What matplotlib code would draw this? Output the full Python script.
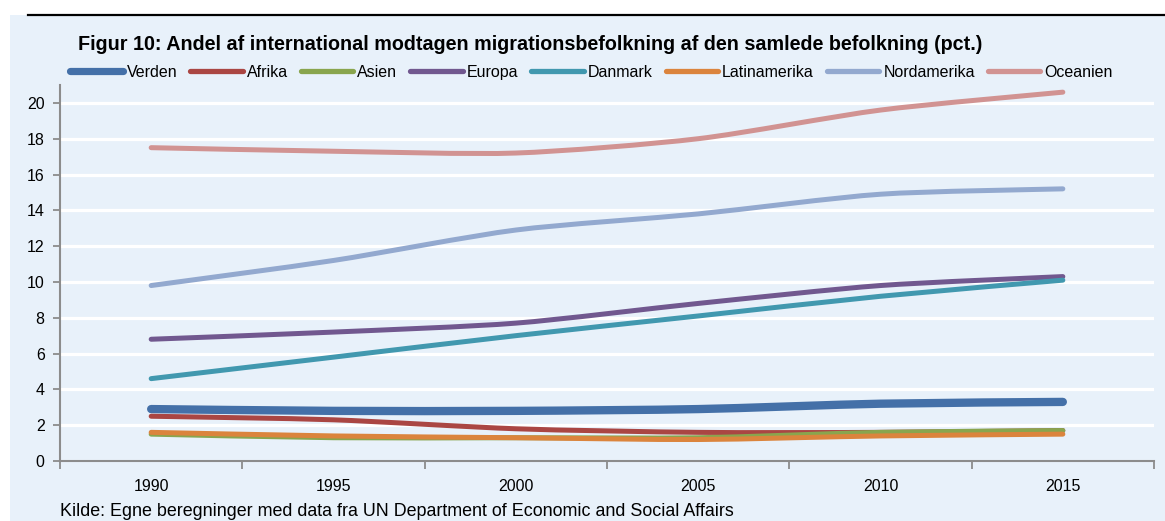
import numpy as np
import matplotlib
matplotlib.use('Agg')
import matplotlib.pyplot as plt
from matplotlib.path import Path
from matplotlib.patches import PathPatch, Rectangle
from matplotlib.lines import Line2D

plt.rcParams['font.family'] = ['Liberation Sans Narrow', 'Liberation Sans', 'DejaVu Sans']

# data (pct. of population)
years = ['1990', '1995', '2000', '2005', '2010', '2015']
verden = [2.9, 2.8, 2.8, 2.9, 3.2, 3.3]
afrika = [2.5, 2.3, 1.8, 1.6, 1.6, 1.7]
asien = [1.5, 1.3, 1.3, 1.3, 1.6, 1.7]
europa = [6.8, 7.2, 7.7, 8.8, 9.8, 10.3]
danmark = [4.6, 5.8, 7.0, 8.1, 9.2, 10.1]
latinamerika = [1.6, 1.4, 1.3, 1.2, 1.4, 1.5]
nordamerika = [9.8, 11.2, 12.9, 13.8, 14.9, 15.2]
oceanien = [17.5, 17.3, 17.2, 18.0, 19.6, 20.6]

series = [
    ('Verden', verden, '#4470A8', 6.0),
    ('Afrika', afrika, '#AA4643', 3.6),
    ('Asien', asien, '#89A54E', 3.6),
    ('Europa', europa, '#71588F', 3.6),
    ('Danmark', danmark, '#4198AF', 3.6),
    ('Latinamerika', latinamerika, '#DB843D', 3.6),
    ('Nordamerika', nordamerika, '#93A9CF', 3.6),
    ('Oceanien', oceanien, '#D19392', 3.6),
]

BG = '#E8F1FA'
GREY = '#8C8C8C'


# smooth curve through the points, like the excel "smoothed line" option
def smooth_path(xs, ys, k=8.0):
    pts = np.column_stack([xs, ys]).astype(float)
    verts = [pts[0]]
    codes = [Path.MOVETO]
    n = len(pts)
    for i in range(n - 1):
        p0 = pts[i - 1] if i > 0 else pts[i]
        p1 = pts[i]
        p2 = pts[i + 1]
        p3 = pts[i + 2] if i + 2 < n else pts[i + 1]
        c1 = p1 + (p2 - p0) / k
        c2 = p2 - (p3 - p1) / k
        verts += [c1, c2, p2]
        codes += [Path.CURVE4] * 3
    return Path(verts, codes)


fig = plt.figure(figsize=(11.65, 5.21), dpi=100, facecolor='white')
fig.patches.append(Rectangle((10 / 1165, 0), 1, (521 - 15) / 521, transform=fig.transFigure,
                             facecolor=BG, edgecolor='none', zorder=-10))
fig.lines.append(Line2D([28 / 1165, 1], [1 - 15 / 521] * 2, transform=fig.transFigure,
                        color='black', lw=1.6))

ax = fig.add_axes([60 / 1165, 60 / 521, (1154 - 60) / 1165, (461 - 85) / 521])
ax.set_facecolor('none')

x = np.arange(len(years))
handles = []
for name, vals, col, lw in series:
    patch = PathPatch(smooth_path(x, vals), facecolor='none', edgecolor=col, lw=lw,
                      capstyle='round', joinstyle='round', zorder=3)
    ax.add_patch(patch)
    handles.append(Line2D([], [], color=col, lw=5.2 if name == 'Verden' else 3.8,
                          solid_capstyle='round', label=name))

ax.set_xlim(-0.5, len(years) - 0.5)
ax.set_ylim(0, 21)
ax.set_yticks(np.arange(0, 21, 2))
ax.set_xticks(x)
ax.set_xticklabels(years)
ax.set_xticks(np.arange(-0.5, len(years), 1), minor=True)
ax.tick_params(axis='x', which='major', length=0, pad=13, labelsize=11.5)
ax.tick_params(axis='x', which='minor', length=6, width=1.3, color=GREY, direction='out')
ax.tick_params(axis='y', length=5, width=1.3, color=GREY, labelsize=11.5, pad=6)
ax.grid(axis='y', color='white', lw=2.3)
ax.set_axisbelow(True)
for s in ['top', 'right']:
    ax.spines[s].set_visible(False)
for s in ['left', 'bottom']:
    ax.spines[s].set_color(GREY)
    ax.spines[s].set_linewidth(1.5)
ax.spines['bottom'].set_zorder(4)

fig.text(78 / 1165, 1 - 44 / 521, 'Figur 10: Andel af international modtagen migrationsbefolkning af den samlede befolkning (pct.)',
         fontsize=14.2, fontweight='bold', va='center', ha='left')

fig.legend(handles=handles, loc='center left', bbox_to_anchor=(70 / 1165, 1 - 72 / 521),
           ncol=8, frameon=False, fontsize=11.5, handlelength=3.3, handletextpad=0.25,
           columnspacing=0.8, borderpad=0, borderaxespad=0)

fig.text(60 / 1165, 1 - 512 / 521, 'Kilde: Egne beregninger med data fra UN Department of Economic and Social Affairs',
         fontsize=12.9, va='center', ha='left')

fig.savefig('out.png', dpi=100, facecolor='white')
